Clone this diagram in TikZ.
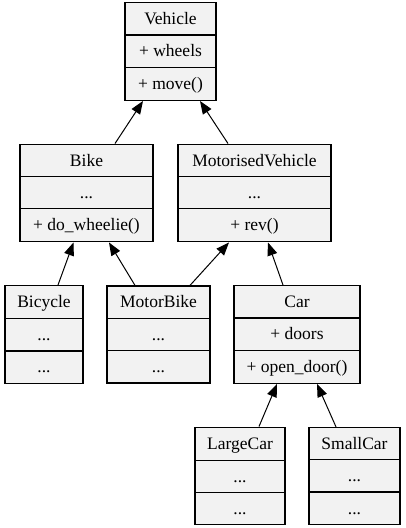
\documentclass[tikz,border=0pt]{standalone}
\usepackage{fontspec}
\setmainfont{Liberation Serif}
\usetikzlibrary{shapes.multipart,arrows.meta}
\definecolor{classfill}{HTML}{F2F2F2}
\def\rowstrut{\rule[-3pt]{0pt}{17.5pt}}
\def\classrows#1#2#3{\rowstrut #1\nodepart{two}\rowstrut #2\nodepart{three}\rowstrut #3}
\tikzset{
	umlclass/.style={draw, line width=1.3pt, fill=classfill, rectangle split, rectangle split parts=3, inner ysep=6.75pt, font=\fontsize{17.5}{21}\selectfont},
	inherit/.style={line width=1pt, -{Triangle[length=13pt,width=10pt]}}
}

\begin{document}
\begin{tikzpicture}[x=1pt, y=1pt]
		%%%%% START %%%%%
		
		\useasboundingbox (0, 0) rectangle (405, 528);
		
		\node[umlclass, minimum width=91pt] (vehicle) at (170.5, 476.5) {\classrows{Vehicle}{+ wheels}{+ move()}};
		
		\node[umlclass, minimum width=133pt] (bike) at (86.5, 335) {\classrows{Bike}{...}{+ do\_wheelie()}};
		\node[umlclass, minimum width=153pt] (motorised) at (254.5, 335) {\classrows{MotorisedVehicle}{...}{+ rev()}};
		
		\node[umlclass, minimum width=78pt] (bicycle) at (44, 193.5) {\classrows{Bicycle}{...}{...}};
		\node[umlclass, minimum width=103pt] (motorbike) at (158.5, 193.5) {\classrows{MotorBike}{...}{...}};
		\node[umlclass, minimum width=126pt] (car) at (297, 193.5) {\classrows{Car}{+ doors}{+ open\_door()}};
		
		\node[umlclass, minimum width=90pt] (largecar) at (240, 52) {\classrows{LargeCar}{...}{...}};
		\node[umlclass, minimum width=91pt] (smallcar) at (354.5, 52) {\classrows{SmallCar}{...}{...}};
		
		\draw[inherit] ([xshift=28.5pt]bike.north) -- ([xshift=-27.5pt]vehicle.south);
		\draw[inherit] ([xshift=-26.5pt]motorised.north) -- ([xshift=29.5pt]vehicle.south);
		
		\draw[inherit] ([xshift=14pt]bicycle.north) -- ([xshift=-13pt]bike.south);
		\draw[inherit] ([xshift=-23.5pt]motorbike.north) -- ([xshift=22.5pt]bike.south);
		\draw[inherit] ([xshift=31.5pt]motorbike.north) -- ([xshift=-25.5pt]motorised.south);
		\draw[inherit] ([xshift=-14pt]car.north) -- ([xshift=13.5pt]motorised.south);
		
		\draw[inherit] ([xshift=19pt]largecar.north) -- ([xshift=-20pt]car.south);
		\draw[inherit] ([xshift=-18.5pt]smallcar.north) -- ([xshift=20pt]car.south);
		
		%%%%% END %%%%%
	\end{tikzpicture}
\end{document}
